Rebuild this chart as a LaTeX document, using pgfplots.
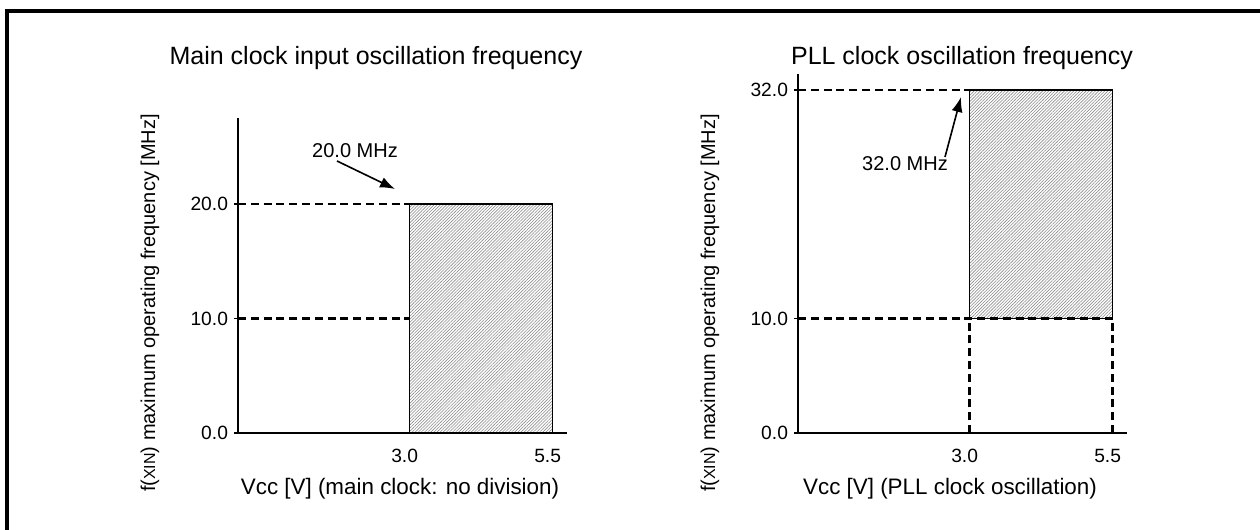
\documentclass[border=0pt]{standalone}
\usepackage{pgfplots}
\pgfplotsset{compat=1.18}
\usepackage{fontspec}
\setmainfont{Liberation Sans}
\usetikzlibrary{arrows.meta,patterns.meta}

\newcommand{\Px}[2]{({#1*0.5pt},{-#2*0.5pt})}

\pgfplotsset{myax/.style={
  axis lines=left,
  axis line style={-,line width=1pt},
  xmin=0,xmax=5.75,ymin=0,
  x=28.6pt,y=5.725pt,
  anchor=south west, clip=false,
  xtick={3,5.5}, xticklabels={3.0,5.5},
  tick label style={font=\fontsize{9.6}{11}\selectfont},
  xtick style={draw=none},
  ytick style={line width=0.6pt,black},
  tick align=outside, major tick length=2pt,
  xticklabel style={yshift=-2.5pt,xshift=-2.5pt},
  yticklabel style={xshift=0.5pt},
}}
\tikzset{
  dsh/.style={black,line width=1.3pt,dash pattern=on 4pt off 2.4pt},
  hatch/.style={draw=black,line width=0.7pt,
    pattern={Lines[angle=45,distance=1.1pt,line width=0.3pt]},pattern color=black!45},
  arr/.style={line width=0.8pt,-{Latex[length=7.5pt,width=5.5pt]}},
}

\begin{document}
\begin{tikzpicture}
\useasboundingbox (0,0) rectangle (630pt,-265pt);
% frame (top and left)
\draw[line width=2pt] (3.5pt,-265pt) -- (3.5pt,-5.5pt) -- (630pt,-5.5pt);

% ---------- Left chart ----------
\begin{axis}[myax, at={(119pt,-216.5pt)}, ymax=27.5,
  ytick={0,10,20}, yticklabels={0.0,10.0,20.0}]
  \addplot[hatch] coordinates {(3,0) (3,20) (5.5,20) (5.5,0)} -- cycle;
  \addplot[dsh] coordinates {(0,20) (5.5,20)};
  \addplot[dsh] coordinates {(0,10) (3,10)};
\end{axis}

% ---------- Right chart ----------
\begin{axis}[myax, at={(399pt,-216.5pt)}, ymax=33.5,
  y coord trafo/.code={\pgfmathparse{(#1>10) ? (10+(#1-10)*0.907) : (#1)}},
  ytick={0,10,32}, yticklabels={0.0,10.0,32.0}]
  \addplot[hatch] coordinates {(3,10) (3,32) (5.5,32) (5.5,10)} -- cycle;
  \addplot[dsh] coordinates {(0,32) (3,32)};
  \addplot[dsh] coordinates {(0,10) (5.5,10)};
  \addplot[dsh] coordinates {(3,0) (3,10)};
  \addplot[dsh] coordinates {(5.5,0) (5.5,10)};
\end{axis}

% titles
\node[anchor=base,font=\fontsize{12.5}{14}\selectfont] at \Px{376}{64} {Main clock input oscillation frequency};
\node[anchor=base,font=\fontsize{12.5}{14}\selectfont] at \Px{962}{64} {PLL clock oscillation frequency};
% x labels
\node[anchor=base,font=\fontsize{11.2}{13}\selectfont] at \Px{400}{494} {Vcc [V] (main clock: no division)};
\node[anchor=base,font=\fontsize{11.2}{13}\selectfont] at \Px{950}{494} {Vcc [V] (PLL clock oscillation)};
% y labels
\node[rotate=90,font=\fontsize{10}{12}\selectfont] at \Px{150}{303} {f({\fontsize{8}{9}\selectfont XIN}) maximum operating frequency [MHz]};
\node[rotate=90,font=\fontsize{10}{12}\selectfont] at \Px{710}{303} {f({\fontsize{8}{9}\selectfont XIN}) maximum operating frequency [MHz]};
% annotations
\node[anchor=base,font=\fontsize{10}{12}\selectfont] at \Px{355}{157} {20.0 MHz};
\draw[arr] \Px{337}{161} -- \Px{395}{189};
\node[anchor=base,font=\fontsize{10}{12}\selectfont] at \Px{905}{170} {32.0 MHz};
\draw[arr] \Px{945}{157} -- \Px{961}{97};
\end{tikzpicture}
\end{document}
